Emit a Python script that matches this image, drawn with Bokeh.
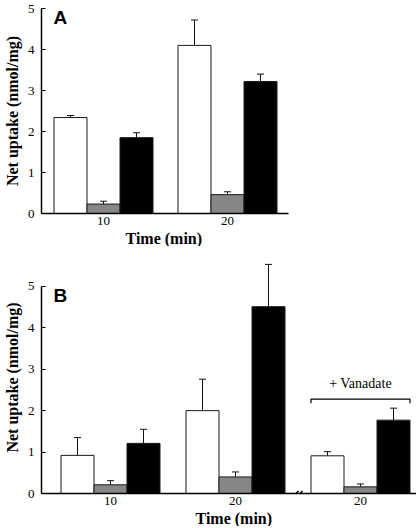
from bokeh.plotting import figure
from bokeh.layouts import column
from bokeh.models import (ColumnDataSource, Whisker, TeeHead, FixedTicker, Label,
                          Range1d, Arrow, Title)
from bokeh.embed import file_html
from bokeh.resources import INLINE

# ---------------- data ----------------
# Panel A
a_times = ["10", "20"]
a_white = [2.34, 4.10]
a_white_err = [0.05, 0.62]
a_gray = [0.23, 0.46]
a_gray_err = [0.07, 0.07]
a_black = [1.85, 3.22]
a_black_err = [0.12, 0.18]

# Panel B (third group: 20 min + vanadate)
b_times = ["10", "20", "20"]
b_white = [0.92, 2.00, 0.91]
b_white_err = [0.43, 0.76, 0.10]
b_gray = [0.21, 0.40, 0.16]
b_gray_err = [0.10, 0.12, 0.07]
b_black = [1.21, 4.51, 1.77]
b_black_err = [0.34, 1.02, 0.29]

y_ticks = [0, 1, 2, 3, 4, 5]
x_title = "Time (min)"
y_title = "Net uptake (nmol/mg)"
vanadate_text = "+ Vanadate"
vanadate_group = 3
bracket_level = 2.28
break_position = 2.5

# ---------------- style ----------------
SERIF = "Liberation Serif"
SANS = "Liberation Sans"
FILLS = ["#ffffff", "#868686", "#000000"]
OUTLINE = "#1a1a1a"


def make_panel(letter, times, series, errors, x_start, x_end, axis_end, y_end,
               bar_w, height, b_top, letter_xy, title_offset):
    p = figure(width=416, height=height,
               x_range=Range1d(x_start, x_end), y_range=Range1d(0, y_end),
               output_backend="svg", toolbar_location=None,
               min_border_left=41, min_border_right=0,
               min_border_top=b_top, min_border_bottom=0)
    p.outline_line_color = None
    p.xgrid.visible = False
    p.ygrid.visible = False
    p.background_fill_color = "white"
    p.border_fill_color = "white"

    centers = [i + 1 for i in range(len(times))]
    offsets = [-1, 0, 1]
    for vals, errs, fill, off in zip(series, errors, FILLS, offsets):
        xs = [c + off * bar_w for c in centers]
        src = ColumnDataSource(dict(x=xs, top=vals,
                                    upper=[v + e for v, e in zip(vals, errs)]))
        p.vbar(x="x", top="top", bottom=0, width=bar_w, source=src,
               fill_color=fill, line_color=OUTLINE, line_width=1)
        w = Whisker(base="x", lower="top", upper="upper", source=src,
                    dimension="height", line_color="#111111", line_width=1,
                    upper_head=TeeHead(size=7, line_color="#111111", line_width=1),
                    lower_head=None)
        p.add_layout(w)

    # x axis
    xa = p.xaxis[0]
    xa.bounds = (x_start, axis_end)
    xa.ticker = FixedTicker(ticks=centers)
    xa.major_label_overrides = {c: t for c, t in zip(centers, times)}
    xa.major_tick_in = 0
    xa.major_tick_out = 0
    xa.major_tick_line_color = None
    xa.minor_tick_line_color = None
    xa.axis_line_width = 1.5
    xa.axis_line_color = "black"
    xa.major_label_text_font = SERIF
    xa.major_label_text_font_size = "13px"
    xa.major_label_text_color = "black"
    xa.major_label_standoff = 3

    p.add_layout(Title(text=x_title, align="left", offset=title_offset,
                       standoff=0, text_font=SERIF, text_font_size="16px",
                       text_font_style="bold", text_color="black"), "below")

    # y axis
    ya = p.yaxis[0]
    ya.bounds = (0, 5)
    ya.ticker = FixedTicker(ticks=y_ticks)
    ya.major_tick_in = 4
    ya.major_tick_out = 0
    ya.major_tick_line_color = "black"
    ya.minor_tick_line_color = None
    ya.axis_line_width = 1.5
    ya.axis_line_color = "black"
    ya.major_label_text_font = SERIF
    ya.major_label_text_font_size = "13px"
    ya.major_label_text_color = "black"
    ya.major_label_standoff = 7
    ya.axis_label = y_title
    ya.axis_label_text_font = SERIF
    ya.axis_label_text_font_style = "bold"
    ya.axis_label_text_font_size = "16px"
    ya.axis_label_text_color = "black"
    ya.axis_label_standoff = 4

    p.add_layout(Label(x=letter_xy[0], y=letter_xy[1], text=letter,
                       text_font=SANS, text_font_style="bold",
                       text_font_size="19px", text_color="black",
                       text_baseline="middle", text_align="left"))
    return p


bar_a = 33 / 124
pA = make_panel("A", a_times,
                [a_white, a_gray, a_black],
                [a_white_err, a_gray_err, a_black_err],
                x_start=0.5, x_end=0.5 + 375 / 124, axis_end=2.492, y_end=5,
                bar_w=bar_a, height=246, b_top=8,
                letter_xy=(0.597, 4.77), title_offset=84)

bar_b = 33 / 125
pB = make_panel("B", b_times,
                [b_white, b_gray, b_black],
                [b_white_err, b_gray_err, b_black_err],
                x_start=0.448, x_end=3.448, axis_end=3.448, y_end=5.6,
                bar_w=bar_b, height=280, b_top=15,
                letter_xy=(0.544, 4.77), title_offset=154)

# vanadate bracket and label
xl = vanadate_group - 1.5 * bar_b
xr = vanadate_group + 1.5 * bar_b
drop = 0.1
pB.line(x=[xl, xl, xr, xr],
        y=[bracket_level - drop, bracket_level, bracket_level, bracket_level - drop],
        line_color="black", line_width=1.2)
pB.add_layout(Label(x=vanadate_group, y=bracket_level + 0.38, text=vanadate_text,
                    text_font=SERIF, text_font_size="14px", text_color="black",
                    text_align="center", text_baseline="middle"))

# axis break marks "//"
for dx in (-0.016, 0.016):
    cx = break_position + dx
    pB.add_layout(Arrow(x_start=cx - 0.02, y_start=-0.06,
                        x_end=cx + 0.02, y_end=0.06,
                        start=None, end=None,
                        line_color="black", line_width=1.5))

layout = column(pA, pB, spacing=0)
open("out.html", "w").write(file_html(layout, INLINE))
